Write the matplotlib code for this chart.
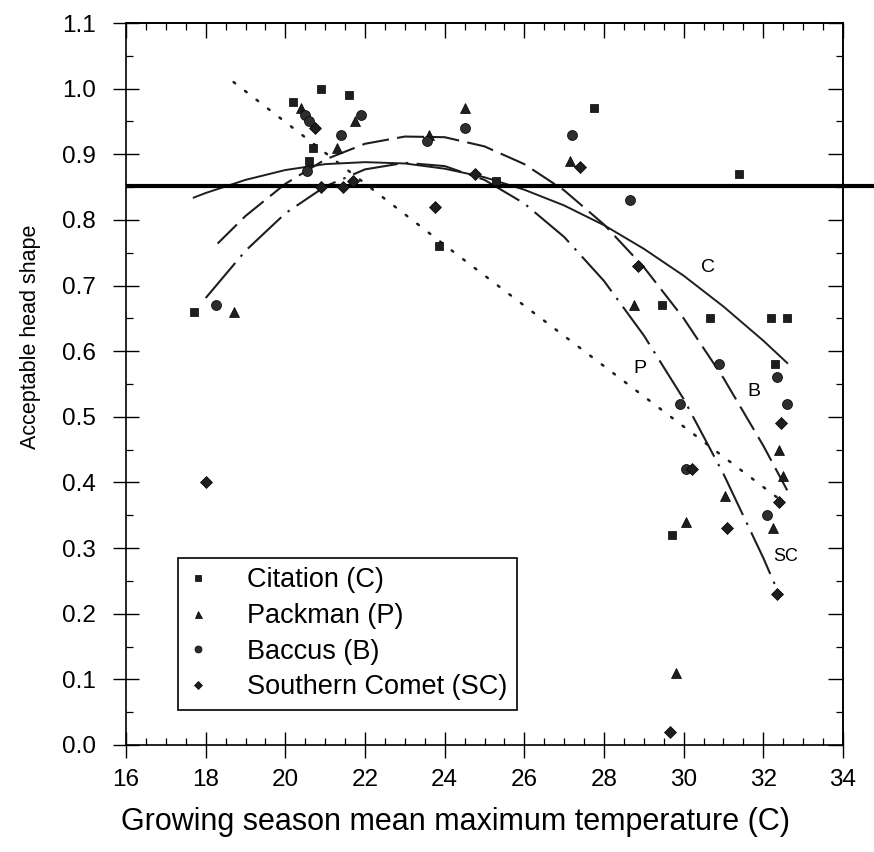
import matplotlib
matplotlib.use("Agg")
import matplotlib.pyplot as plt
from matplotlib.ticker import MultipleLocator

plt.rcParams['font.family'] = ['Liberation Sans', 'DejaVu Sans']

# observed acceptable head shape per cultivar (temp C, fraction)
cit_x = [17.7, 20.2, 20.9, 21.6, 20.7, 20.6, 23.85, 25.3, 27.75, 31.4, 29.45, 30.65, 32.2, 32.6, 32.3, 29.7]
cit_y = [0.66, 0.98, 1.00, 0.99, 0.91, 0.89, 0.76, 0.86, 0.97, 0.87, 0.67, 0.65, 0.65, 0.65, 0.58, 0.32]

pack_x = [18.7, 20.4, 21.3, 21.75, 23.6, 24.5, 27.15, 28.75, 29.8, 30.05, 31.05, 32.25, 32.4, 32.5]
pack_y = [0.66, 0.97, 0.91, 0.95, 0.93, 0.97, 0.89, 0.67, 0.11, 0.34, 0.38, 0.33, 0.45, 0.41]

bac_x = [18.25, 20.5, 20.6, 20.55, 21.4, 21.9, 23.55, 24.5, 27.2, 28.65, 29.9, 30.05, 30.9, 32.1, 32.35, 32.6]
bac_y = [0.67, 0.96, 0.95, 0.875, 0.93, 0.96, 0.92, 0.94, 0.93, 0.83, 0.52, 0.42, 0.58, 0.35, 0.56, 0.52]

sc_x = [18.0, 20.75, 20.9, 21.45, 21.7, 23.75, 24.75, 27.4, 28.85, 29.65, 30.2, 31.1, 32.35, 32.4, 32.45]
sc_y = [0.40, 0.94, 0.85, 0.85, 0.86, 0.82, 0.87, 0.88, 0.73, 0.02, 0.42, 0.33, 0.23, 0.37, 0.49]

# fitted response curves
cfit_x = [17.7, 18, 19, 20, 21, 22, 23, 24, 25, 26, 27, 28, 29, 30, 31, 32, 32.6]
cfit_y = [0.834, 0.841, 0.861, 0.876, 0.885, 0.888, 0.886, 0.878, 0.865, 0.846, 0.822, 0.792, 0.756, 0.715, 0.668, 0.616, 0.582]

pfit_x = [18.7, 24.4, 32.5]
pfit_y = [1.01, 0.743, 0.37]

bfit_x = [18.3, 19, 20, 21, 22, 23, 24, 25, 26, 27, 28, 29, 30, 31, 32, 32.6]
bfit_y = [0.764, 0.806, 0.855, 0.892, 0.916, 0.927, 0.926, 0.912, 0.885, 0.845, 0.793, 0.728, 0.650, 0.559, 0.456, 0.388]

scfit_x = [18.0, 19, 20, 21, 22, 23, 24, 25, 26, 27, 28, 29, 30, 31, 32, 32.35]
scfit_y = [0.681, 0.753, 0.810, 0.851, 0.877, 0.887, 0.882, 0.861, 0.825, 0.774, 0.707, 0.624, 0.527, 0.413, 0.285, 0.236]

threshold = 0.852

labels = ["Citation (C)", "Packman (P)", "Baccus (B)", "Southern Comet (SC)"]

fig = plt.figure(figsize=(8.74, 8.52), dpi=100)
ax = fig.add_axes([0.1442, 0.1256, 0.8203, 0.8474])

ink = '#1e1e1e'

# curves
ax.plot(cfit_x, cfit_y, color=ink, lw=1.4, ls='-')
ax.plot(pfit_x, pfit_y, color=ink, lw=1.8, ls=(0, (0.8, 5)), dash_capstyle='round')
ax.plot(bfit_x, bfit_y, color=ink, lw=1.5, ls=(0, (13, 4)))
ax.plot(scfit_x, scfit_y, color=ink, lw=1.5, ls=(0, (22, 4, 1.2, 4)))

# threshold line running out past the frame
ax.plot([16, 34.8], [threshold, threshold], color='black', lw=3, clip_on=False, solid_capstyle='butt')

# points
h1, = ax.plot(cit_x, cit_y, ls='none', marker='s', ms=6.4, mfc=ink, mec='black', mew=0.5, zorder=5)
h2, = ax.plot(pack_x, pack_y, ls='none', marker='^', ms=7.2, mfc=ink, mec='black', mew=0.5, zorder=5)
h3, = ax.plot(bac_x, bac_y, ls='none', marker='o', ms=7.2, mfc='#2e2e2e', mec='black', mew=0.5, zorder=5)
h4, = ax.plot(sc_x, sc_y, ls='none', marker='D', ms=6.5, mfc=ink, mec='black', mew=0.5, zorder=5)

# curve tags
ax.text(30.6, 0.728, "C", fontsize=14, ha='center', va='center')
ax.text(28.9, 0.573, "P", fontsize=14, ha='center', va='center')
ax.text(31.77, 0.538, "B", fontsize=14, ha='center', va='center')
ax.text(32.55, 0.287, "SC", fontsize=13, ha='center', va='center')

ax.set_xlim(16, 34)
ax.set_ylim(0, 1.1)
ax.xaxis.set_major_locator(MultipleLocator(2))
ax.xaxis.set_minor_locator(MultipleLocator(0.5))
ax.yaxis.set_major_locator(MultipleLocator(0.1))
ax.yaxis.set_minor_locator(MultipleLocator(0.05))
ax.yaxis.set_major_formatter(plt.FuncFormatter(lambda v, p: "%.1f" % v))

ax.tick_params(which='major', direction='inout', length=19, width=1.0, labelsize=17.5, colors='black')
ax.tick_params(axis='x', which='major', pad=8)
ax.tick_params(axis='y', which='major', pad=12)
ax.tick_params(which='minor', direction='in', length=5, width=0.9)
for sp in ax.spines.values():
    sp.set_linewidth(1.2)

# top and right ticks point inward only
top = ax.secondary_xaxis('top')
top.xaxis.set_major_locator(MultipleLocator(2))
top.xaxis.set_minor_locator(MultipleLocator(0.5))
top.tick_params(which='major', direction='in', length=11, width=1.0, labeltop=False)
top.tick_params(which='minor', direction='in', length=5, width=0.9)
top.spines['top'].set_linewidth(1.2)
right = ax.secondary_yaxis('right')
right.yaxis.set_major_locator(MultipleLocator(0.1))
right.yaxis.set_minor_locator(MultipleLocator(0.05))
right.tick_params(which='major', direction='in', length=11, width=1.0, labelright=False)
right.tick_params(which='minor', direction='in', length=5, width=0.9)
right.spines['right'].set_linewidth(1.2)

ax.set_xlabel("Growing season mean maximum temperature (C)", fontsize=22)
ax.xaxis.set_label_coords(0.459, -0.086)
ax.set_ylabel("Acceptable head shape", fontsize=15.5)
ax.yaxis.set_label_coords(-0.118, 0.565)

leg = ax.legend([h1, h2, h3, h4], labels, loc='lower left', bbox_to_anchor=(0.0725, 0.0485),
                borderaxespad=0, fontsize=19.5, frameon=True, fancybox=False, edgecolor='black',
                framealpha=1, handlelength=0.8, handletextpad=1.4, borderpad=0.35,
                labelspacing=0.36, markerscale=0.7)
leg.get_frame().set_linewidth(1.2)

fig.savefig("out.png", dpi=100)
